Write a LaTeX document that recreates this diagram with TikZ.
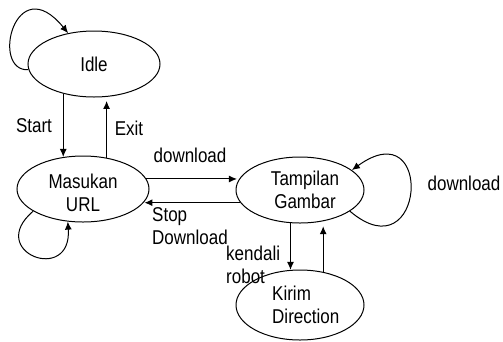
\documentclass[tikz,border=0pt]{standalone}
\usepackage{fontspec}
\setmainfont{Liberation Sans}
\usetikzlibrary{arrows.meta,shapes.geometric}
\newcommand{\nt}[1]{\scalebox{0.85}[1]{#1}}
\begin{document}
\begin{tikzpicture}[x=1pt,y=-1pt,
  state/.style={draw, ellipse, line width=1pt, inner sep=0pt, font=\fontsize{20}{23}\selectfont, align=center},
  lbl/.style={inner sep=0pt, font=\fontsize{20}{23}\selectfont},
  arr/.style={line width=1pt, -{Latex[length=8pt,width=7pt]}}]
\useasboundingbox (0,0) rectangle (503,341);
\node[state, minimum width=132pt, minimum height=66pt] (idle) at (94,64) {\nt{Idle}};
\node[state, minimum width=132pt, minimum height=66pt] (masukan) at (83,189) {};
\node[lbl, align=center] (masukantxt) at (83,193) {\nt{Masukan}\\\nt{URL}};
\node[state, minimum width=128pt, minimum height=66pt] (tampilan) at (300,190) {};
\node[lbl, align=center] (tampilantxt) at (305,190) {\nt{Tampilan}\\\nt{Gambar}};
\node[state, minimum width=128pt, minimum height=70pt] (kirim) at (300,305) {};
\node[lbl, align=left, anchor=west] (kirimtxt) at (272,305) {\nt{Kirim}\\\nt{Direction}};
% self loops
\draw[arr] (idle.185) .. controls (-10,72) and (15,-32) .. (idle.130);
\draw[arr] (masukan.204) .. controls (-15,252) and (72,285) .. (masukan.245);
\draw[arr] (tampilan.337) .. controls (425,275) and (435,110) .. (tampilan.21);
% vertical transitions
\draw[arr] (idle.224) -- (idle.224 |- masukan.121);
\draw[arr, shorten >=4pt] (masukan.53) -- (masukan.53 |- idle.290);
\draw[arr] (tampilan.254) -- (tampilan.254 |- kirim.104);
\draw[arr, shorten >=5pt] (kirim.55) -- (kirim.55 |- tampilan.307);
% horizontal transitions
\draw[arr, shorten >=2pt] (masukan.9) -- (masukan.9 -| tampilan.170);
\draw[arr, shorten >=1pt] (tampilan.192) -- (tampilan.192 -| masukan.347);
% labels
\node[lbl] (lstart) at (34,126) {\nt{Start}};
\node[lbl] (lexit) at (129,128) {\nt{Exit}};
\node[lbl] (ldl) at (190,155) {\nt{download}};
\node[lbl, align=left, anchor=west] (lstop) at (152,226) {\nt{Stop}\\\nt{Download}};
\node[lbl, align=left, anchor=west] (lkendali) at (226,265) {\nt{kendali}\\\nt{robot}};
\node[lbl] (ldl2) at (464,183) {\nt{download}};
\end{tikzpicture}
\end{document}
